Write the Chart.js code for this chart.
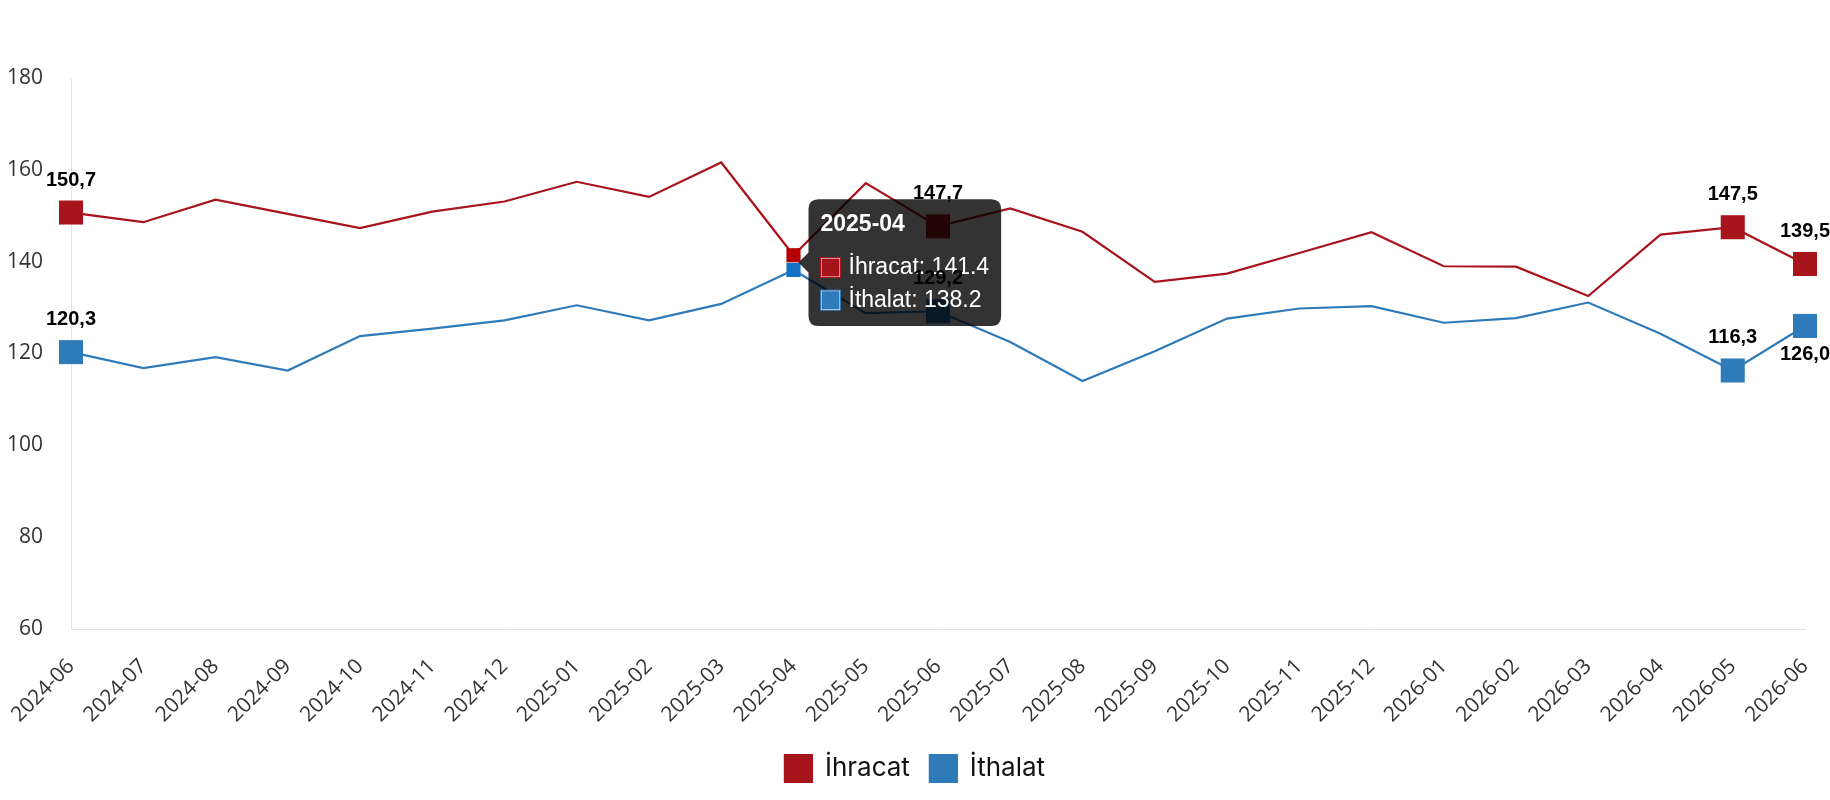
<!DOCTYPE html>
<html>
<head>
<meta charset="utf-8">
<script src="https://cdn.jsdelivr.net/npm/chart.js@4.4.1/dist/chart.umd.min.js"></script>
<style>
  html, body { margin: 0; padding: 0; background: #fff; }
  #wrap { width: 1830px; height: 800px; position: relative; }
</style>
</head>
<body>
<div id="wrap"><canvas id="myChart"></canvas></div>
<script>
const months = ["2024-06", "2024-07", "2024-08", "2024-09", "2024-10", "2024-11", "2024-12",
    "2025-01", "2025-02", "2025-03", "2025-04", "2025-05", "2025-06", "2025-07", "2025-08",
    "2025-09", "2025-10", "2025-11", "2025-12", "2026-01", "2026-02", "2026-03", "2026-04",
    "2026-05", "2026-06"]
const ihracat = [150.7, 148.6, 153.5, 150.4, 147.3, 150.9, 153.1, 157.4, 154.1, 161.6, 141.4, 157.1,
    147.7, 151.6, 146.5, 135.6, 137.4, 141.9, 146.4, 139.0, 138.9, 132.5, 145.9, 147.5, 139.5]
const ithalat = [120.3, 116.8, 119.2, 116.3, 123.8, 125.4, 127.2, 130.5, 127.2, 130.8, 138.2, 128.8,
    129.2, 122.5, 114.0, 120.5, 127.6, 129.8, 130.3, 126.7, 127.7, 131.1, 124.3, 116.3, 126.0]
const yTicks = [60, 80, 100, 120, 140, 160, 180]

// points that get a big marker and a value label
const markedPoints = [0, 12, 23, 24]
const hoveredIndex = 10

const RED = "#a8141b"
const BLUE = "#2f7bb9"

const valueLabels = {
    id: "valueLabels",
    afterDraw(chart) {
        const ctx = chart.ctx
        ctx.save()
        ctx.font = 'bold 20px "Liberation Sans", Arial, sans-serif'
        ctx.fillStyle = "#000"
        ctx.textAlign = "center"
        ctx.textBaseline = "alphabetic"
        chart.data.datasets.forEach((ds, di) => {
            const meta = chart.getDatasetMeta(di)
            markedPoints.forEach(i => {
                const pt = meta.data[i]
                const text = ds.data[i].toFixed(1).replace(".", ",")
                const below = ds.labelBelow.includes(i)
                ctx.fillText(text, pt.x, below ? pt.y + 34 : pt.y - 27)
            })
        })
        ctx.restore()
    }
}

const markerRadius = (c) => markedPoints.includes(c.dataIndex) ? 17 : 0

const chart = new Chart(document.getElementById("myChart"), {
    type: "line",
    data: {
        labels: months,
        datasets: [
            {
                label: "İhracat",
                data: ihracat,
                borderColor: RED,
                backgroundColor: RED,
                borderWidth: 2.2,
                pointStyle: "rect",
                pointRadius: markerRadius,
                pointBorderWidth: 0,
                pointHoverRadius: 10,
                pointHoverBorderWidth: 0,
                pointHoverBackgroundColor: "#b40000",
                labelBelow: []
            },
            {
                label: "İthalat",
                data: ithalat,
                borderColor: BLUE,
                backgroundColor: BLUE,
                borderWidth: 2.2,
                pointStyle: "rect",
                pointRadius: markerRadius,
                pointBorderWidth: 0,
                pointHoverRadius: 10,
                pointHoverBorderWidth: 0,
                pointHoverBackgroundColor: "#1273c6",
                labelBelow: [24]
            }
        ]
    },
    options: {
        responsive: true,
        maintainAspectRatio: false,
        animation: false,
        locale: "en-US",
        layout: { padding: { top: 78, right: 0, bottom: 8, left: 0 } },
        interaction: { mode: "index", intersect: false },
        plugins: {
            legend: {
                position: "bottom",
                labels: {
                    boxWidth: 27,
                    boxHeight: 27,
                    padding: 20,
                    color: "#111",
                    font: { family: "Inter", size: 26 }
                }
            },
            tooltip: {
                backgroundColor: "rgba(0,0,0,0.8)",
                titleFont: { family: "Liberation Sans", size: 23, weight: "bold" },
                bodyFont: { family: "Liberation Sans", size: 23 },
                padding: 12,
                caretSize: 10,
                caretPadding: 5,
                cornerRadius: 10,
                boxWidth: 20,
                boxHeight: 20,
                boxPadding: 6,
                bodySpacing: 5,
                titleMarginBottom: 15
            }
        },
        scales: {
            x: {
                grid: { display: false, drawTicks: false },
                border: { color: "#dfe3ea", width: 1 },
                ticks: {
                    autoSkip: false,
                    maxRotation: 45,
                    minRotation: 45,
                    padding: 25,
                    color: "#333",
                    font: { family: "Open Sans", size: 21 }
                },
                afterFit: (scale) => {
                    scale.height = 106
                    scale.paddingLeft = 0
                    scale.paddingRight = 25
                }
            },
            y: {
                min: yTicks[0],
                max: yTicks[yTicks.length - 1],
                grid: { display: false, drawTicks: false },
                border: { color: "#dfe3ea", width: 1 },
                ticks: {
                    stepSize: 20,
                    padding: 28,
                    color: "#333",
                    font: { family: "Open Sans", size: 21 }
                },
                afterFit: (scale) => { scale.width = 71 }
            }
        }
    },
    plugins: [valueLabels]
})

const active = [{ datasetIndex: 0, index: hoveredIndex }, { datasetIndex: 1, index: hoveredIndex }]
chart.setActiveElements(active)
chart.tooltip.setActiveElements(active, { x: 0, y: 0 })
chart.update()
</script>
</body>
</html>
